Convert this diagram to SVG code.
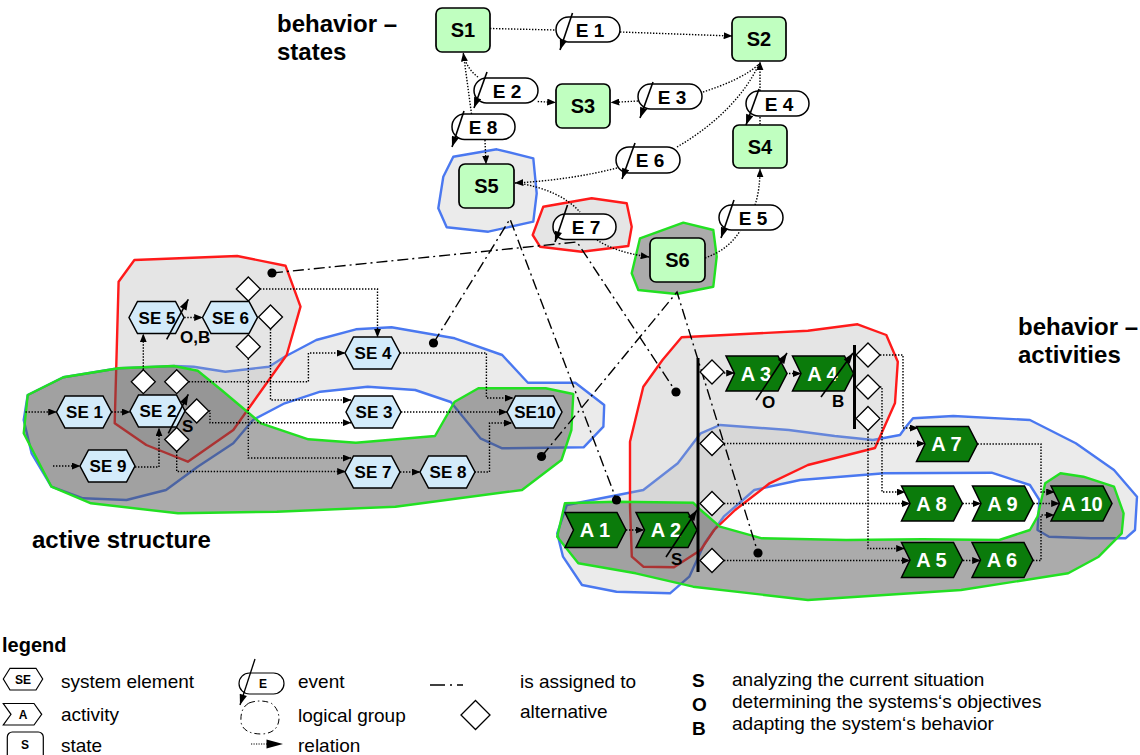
<svg xmlns="http://www.w3.org/2000/svg" width="1140" height="755" viewBox="0 0 1140 755">
<defs>
<style>
text{font-family:"Liberation Sans",Arial,sans-serif;fill:#000}
.st{fill:#c0ffc0;stroke:#000;stroke-width:1.7}
.se{fill:#d3ebfa;stroke:#000;stroke-width:1.5}
.ac{fill:#0b7b0b;stroke:#000;stroke-width:1.5}
.ev{fill:#fff;stroke:#000;stroke-width:1.5}
.dia{fill:#fff;stroke:#000;stroke-width:1.3}
.rel{fill:none;stroke:#000;stroke-width:1.4;stroke-dasharray:1.4 1.6}
.asg{fill:none;stroke:#000;stroke-width:1.4;stroke-dasharray:11 4 2 4}
.sl{fill:none;stroke:#000;stroke-width:1.6}
.gb{fill:#ebebeb;stroke:#4a78f0;stroke-width:2.4;stroke-linejoin:round}
.gr{fill:rgba(170,170,170,0.3);stroke:#ff1a1a;stroke-width:2.4;stroke-linejoin:round}
.gg{fill:rgba(80,80,80,0.48);stroke:#22e022;stroke-width:2.4;stroke-linejoin:round}
.ts{font-size:20px;font-weight:bold;text-anchor:middle}
.tse{font-size:17px;font-weight:bold;text-anchor:middle}
.ta{font-size:20px;font-weight:bold;text-anchor:middle;fill:#fff}
.te{font-size:19px;font-weight:bold;text-anchor:middle}
.tt{font-size:24px;font-weight:bold}
.tk{font-size:17px;font-weight:bold}
.tl{font-size:19px}
.tlb{font-size:19px;font-weight:bold}
</style>
<marker id="ah" viewBox="0 0 10 8" refX="9.5" refY="4" markerWidth="9" markerHeight="7" markerUnits="userSpaceOnUse" orient="auto"><path d="M0,0 L10,4 L0,8 Z" fill="#000"/></marker>
<marker id="ahe" viewBox="0 0 10 7" refX="10" refY="3.5" markerWidth="12" markerHeight="7.5" markerUnits="userSpaceOnUse" orient="auto"><path d="M0,0 L10,3.5 L0,7 Z" fill="#000"/></marker>
<path id="hex" d="M0,16 L8.5,0 H46.5 L55,16 L46.5,32 H8.5 Z"/>
<path id="act" d="M0,0 H52 L61,17.5 L52,35 H0 L8.5,17.5 Z"/>
<path id="dia" d="M0,-12 L12,0 L0,12 L-12,0 Z"/>
</defs>
<rect width="1140" height="755" fill="#fff"/>

<!-- logical groups -->
<g id="groups">
<polygon class="gb" points="27.7,395 63.3,377.3 118.6,368.3 174,366 193.7,366.7 225.4,371.7 268.9,366.7 284.7,356.7 316.3,340 355.9,329.3 391.5,327.3 454.7,338.3 502.2,355 527.9,382.7 575.3,382.7 604.2,405 603.4,426.7 583.6,447.3 502.2,448.3 480.4,438.3 450.8,402 415.2,390 367.7,386.7 320.3,391.7 284.7,403.3 253,420 233.3,443.3 197.7,466.7 166,490 126.5,500 83,498.3 51.4,486.7 31.6,453.3 23.7,420"/>
<polygon class="gb" points="566.8,505 643.3,490 677.8,463.3 700.7,433.3 719.9,425 788.8,430 834.7,436 873,440 900,435 905,428 913,418.3 953.3,416 1029.9,420 1075.8,443.3 1114,470 1137,496.7 1135,530 1125.5,538.3 1091,538.3 1049,536.7 1037.5,530 1039.4,500 1029.9,485 991.6,472.7 884.4,473.3 800.2,480 754.3,490 723.7,516.7 704.6,543.3 689.3,576.7 670,593.3 616.5,591.7 582,585 563,556.7 557.2,533.3"/>
<polygon class="gb" points="453.3,156.7 496.7,149.3 533.3,158.3 536.7,193.3 533.3,221.7 488.3,231.7 446.7,227.3 438.3,208.3 443.3,176.7"/>
<polygon class="gr" points="118.6,281.7 134.4,260 237.2,256 285.5,265.7 300.5,306.7 286.7,355 245.2,413.3 233.3,430 187.8,461.7 146.3,445 114.7,423.3"/>
<polygon class="gr" points="681.6,337.3 807.9,330.7 857.6,324.3 886.3,335 897.8,361.7 895,403 875,448 807.9,465 769.6,483.3 735.2,510 714.1,530 700.7,550 674,567.3 643.3,566.7 631.8,556.7 630,506.7 630,441.7 643.3,386.7 662.5,360"/>
<polygon class="gr" points="543.3,206.7 591.7,198.3 626.7,203.3 631.7,226.7 628.3,246 581.7,251.7 540,246.7 532.7,235"/>
<polygon class="gg" points="27.7,395 63.3,377.3 118.6,368.3 174,366 197.7,370.7 221.4,390 261,423.3 308.4,439.3 355.9,442.7 435,436 454.7,401.7 478.4,388.3 545.7,388.3 573.3,394 571.4,430 561.5,460 522,490 395.4,506.7 276.8,511.7 178,513.3 91,503.3 51.4,486.7 23.7,433.3"/>
<polygon class="gg" points="564.9,503.3 616.5,501.7 693.1,502.7 700.7,510 719.9,526.7 762,538.3 846.2,540 922.7,539.3 999.2,540 1029.9,530 1037.5,516.7 1045.2,483.3 1060.5,473.3 1083.4,476.7 1114,486.7 1123.6,513.3 1121.7,533.3 1098.7,556.7 1068.2,573.3 961,590 807.9,600 693.1,586.7 635.7,573.3 578.3,563.3 557.2,536.7"/>
<polygon class="gg" points="640,238.3 683.3,222.7 713.3,230 716.7,256.7 713.3,286.7 676.7,294 638.3,290 631.7,273.3"/>
</g>

<!-- connectors -->
<g id="connectors">
<!-- states -->
<path class="rel" d="M490,28.5 L556,30"/>
<path class="rel" d="M620,32 L732,36" marker-end="url(#ah)"/>
<path class="rel" d="M703,92 C725,85 748,75 759,64"/>
<path class="rel" d="M677,147 C715,125 745,95 759,64"/>
<path class="rel" d="M760,91 V62" marker-end="url(#ah)"/>
<path class="rel" d="M760,117 V125"/>
<path class="rel" d="M638,101 L611,102.5" marker-end="url(#ah)"/>
<path class="rel" d="M617,168 Q570,180 515,183" marker-end="url(#ah)"/>
<path class="rel" d="M755,205 Q760,190 760,169" marker-end="url(#ah)"/>
<path class="rel" d="M705,258 Q728,250 740,231"/>
<path class="rel" d="M597,240 Q615,252 649,257" marker-end="url(#ah)"/>
<path class="rel" d="M518,183 Q560,190 580,212"/>
<path class="rel" d="M478,77 Q468,70 463,55"/>
<path class="rel" d="M471.5,114 L463.3,53" marker-end="url(#ah)"/>
<path class="rel" d="M537.7,101.5 L555.5,102.5" marker-end="url(#ah)"/>
<path class="rel" d="M485,140 L486,164" marker-end="url(#ah)"/>
<!-- active structure -->
<path class="rel" d="M25.5,412 H56.5" marker-end="url(#ah)"/>
<path class="rel" d="M111.5,412 H130" marker-end="url(#ah)"/>
<path class="rel" d="M53,466 H80" marker-end="url(#ah)"/>
<path class="rel" d="M135,467 H159 V428" marker-end="url(#ah)"/>
<path class="rel" d="M143.3,369.7 V334" marker-end="url(#ah)"/>
<path class="rel" d="M184.3,317.5 H202.5" marker-end="url(#ah)"/>
<path class="rel" d="M260,289 H377.5 V337" marker-end="url(#ah)"/>
<path class="rel" d="M270.5,329 V400 H351" marker-end="url(#ah)"/>
<path class="rel" d="M248.3,358.7 V458 H351" marker-end="url(#ah)"/>
<path class="rel" d="M188.7,381.7 H308.4 V353 H345" marker-end="url(#ah)"/>
<path class="rel" d="M208.7,411 H210 V422.7 H351" marker-end="url(#ah)"/>
<path class="rel" d="M176.7,451.5 V471.5 H345.5" marker-end="url(#ah)"/>
<path class="rel" d="M400,353 H486.4 V398 H513" marker-end="url(#ah)"/>
<path class="rel" d="M401,412 H507" marker-end="url(#ah)"/>
<path class="rel" d="M400,472 H420" marker-end="url(#ah)"/>
<path class="rel" d="M474.5,472 H489.5 V423 H512" marker-end="url(#ah)"/>
<!-- activities -->
<path class="rel" d="M626,530 H644" marker-end="url(#ah)"/>
<path class="rel" d="M724,373 H734.5" marker-end="url(#ah)"/>
<path class="rel" d="M786,373.5 H801" marker-end="url(#ah)"/>
<path class="rel" d="M880,355 H903 V428 H918" marker-end="url(#ah)"/>
<path class="rel" d="M880,387 H882 V492 H905" marker-end="url(#ah)"/>
<path class="rel" d="M868,430.5 V548.5 H904.5" marker-end="url(#ah)"/>
<path class="rel" d="M724,443.5 H925" marker-end="url(#ah)"/>
<path class="rel" d="M724,503.5 H910" marker-end="url(#ah)"/>
<path class="rel" d="M724,560.5 H910" marker-end="url(#ah)"/>
<path class="rel" d="M977.5,444 H1041 V492 H1054.5" marker-end="url(#ah)"/>
<path class="rel" d="M962.5,503.5 H981" marker-end="url(#ah)"/>
<path class="rel" d="M1033.5,503.5 H1059.5" marker-end="url(#ah)"/>
<path class="rel" d="M1033,560.5 H1041 V515 H1054" marker-end="url(#ah)"/>
<path class="rel" d="M963,560.5 H980.5" marker-end="url(#ah)"/>
<!-- is assigned to -->
<path class="asg" d="M272,273 L577,242 L676,392"/>
<path class="asg" d="M433.5,343 L510,219 L616.5,500"/>
<path class="asg" d="M541.5,456.5 L677,292 L758,553"/>
<g fill="#000">
<circle cx="272" cy="273" r="4.6"/>
<circle cx="433.5" cy="343" r="4.6"/>
<circle cx="616.5" cy="500" r="4.6"/>
<circle cx="676" cy="392" r="4.6"/>
<circle cx="541.5" cy="456.5" r="4.6"/>
<circle cx="758" cy="553" r="4.6"/>
</g>
</g>

<!-- states -->
<g id="S1"><rect class="st" x="436" y="8" width="54" height="44" rx="6"/><text class="ts" x="463" y="37">S1</text></g>
<g id="S2"><rect class="st" x="732" y="17" width="54" height="44" rx="6"/><text class="ts" x="759" y="46">S2</text></g>
<g id="S3"><rect class="st" x="556" y="84" width="54" height="44" rx="6"/><text class="ts" x="583" y="113">S3</text></g>
<g id="S4"><rect class="st" x="733" y="125" width="54" height="43" rx="6"/><text class="ts" x="760" y="154">S4</text></g>
<g id="S5"><rect class="st" x="459" y="164" width="55" height="44" rx="6"/><text class="ts" x="486.5" y="193">S5</text></g>
<g id="S6"><rect class="st" x="650" y="238" width="55" height="44" rx="6"/><text class="ts" x="677.5" y="267">S6</text></g>

<!-- events -->
<g id="E1"><rect class="ev" x="556" y="17" width="64" height="25" rx="12.5"/><text class="te" x="590" y="36.5">E 1</text><path class="sl" d="M572.5,13 L560,50" marker-end="url(#ahe)"/></g>
<g id="E2"><rect class="ev" x="474" y="78" width="64" height="25" rx="12.5"/><text class="te" x="507" y="97.5">E 2</text><path class="sl" d="M487,72 L474,108" marker-end="url(#ahe)"/></g>
<g id="E3"><rect class="ev" x="638" y="84" width="64" height="25" rx="12.5"/><text class="te" x="672" y="103.5">E 3</text><path class="sl" d="M653,82 L640,118" marker-end="url(#ahe)"/></g>
<g id="E4"><rect class="ev" x="746" y="91" width="63" height="25" rx="12.5"/><text class="te" x="779" y="110.5">E 4</text><path class="sl" d="M759,89 L746,125" marker-end="url(#ahe)"/></g>
<g id="E5"><rect class="ev" x="719" y="205" width="64" height="25" rx="12.5"/><text class="te" x="753" y="224.5">E 5</text><path class="sl" d="M734,200 L721,238" marker-end="url(#ahe)"/></g>
<g id="E6"><rect class="ev" x="616" y="147" width="64" height="26" rx="13"/><text class="te" x="650" y="167">E 6</text><path class="sl" d="M635,143 L622,179" marker-end="url(#ahe)"/></g>
<g id="E7"><rect class="ev" x="553" y="214" width="63" height="25.5" rx="12.5"/><text class="te" x="586" y="233.5">E 7</text><path class="sl" d="M567.5,205 L555,242" marker-end="url(#ahe)"/></g>
<g id="E8"><rect class="ev" x="452" y="114" width="63" height="25.5" rx="12.5"/><text class="te" x="483" y="133.5">E 8</text><path class="sl" d="M464,111 L452,147" marker-end="url(#ahe)"/></g>

<!-- system elements -->
<g id="SE1"><use href="#hex" class="se" x="56.5" y="396"/><text class="tse" x="84.5" y="418">SE 1</text></g>
<g id="SE2"><use href="#hex" class="se" x="130" y="395"/><text class="tse" x="158" y="417">SE 2</text></g>
<g id="SE3"><use href="#hex" class="se" x="346" y="396"/><text class="tse" x="374" y="418">SE 3</text></g>
<g id="SE4"><use href="#hex" class="se" x="345" y="337"/><text class="tse" x="373" y="359">SE 4</text></g>
<g id="SE5"><use href="#hex" class="se" x="129" y="301.5"/><text class="tse" x="157" y="323.5">SE 5</text></g>
<g id="SE6"><use href="#hex" class="se" x="202.5" y="301.5"/><text class="tse" x="230.5" y="323.5">SE 6</text></g>
<g id="SE7"><use href="#hex" class="se" x="345" y="456"/><text class="tse" x="373" y="478">SE 7</text></g>
<g id="SE8"><use href="#hex" class="se" x="420" y="456"/><text class="tse" x="448" y="478">SE 8</text></g>
<g id="SE9"><use href="#hex" class="se" x="80" y="450"/><text class="tse" x="108" y="472">SE 9</text></g>
<g id="SE10"><use href="#hex" class="se" x="507" y="396"/><text class="tse" x="535" y="418">SE10</text></g>

<!-- activities -->
<g id="A1"><use href="#act" class="ac" x="565" y="512.5"/><text class="ta" x="595" y="537">A 1</text></g>
<g id="A2"><use href="#act" class="ac" x="636" y="512.5"/><text class="ta" x="666" y="537">A 2</text></g>
<g id="A3"><use href="#act" class="ac" x="726" y="356"/><text class="ta" x="756" y="380.5">A 3</text></g>
<g id="A4"><use href="#act" class="ac" x="792.5" y="356"/><text class="ta" x="822.5" y="380.5">A 4</text></g>
<g id="A5"><use href="#act" class="ac" x="901.5" y="542.5"/><text class="ta" x="931.5" y="567">A 5</text></g>
<g id="A6"><use href="#act" class="ac" x="972" y="542.5"/><text class="ta" x="1002" y="567">A 6</text></g>
<g id="A7"><use href="#act" class="ac" x="916.5" y="426.5"/><text class="ta" x="946.5" y="451">A 7</text></g>
<g id="A8"><use href="#act" class="ac" x="901.5" y="486"/><text class="ta" x="931.5" y="510.5">A 8</text></g>
<g id="A9"><use href="#act" class="ac" x="972.5" y="486"/><text class="ta" x="1002.5" y="510.5">A 9</text></g>
<g id="A10"><use href="#act" class="ac" x="1051" y="486"/><text class="ta" x="1082" y="510.5">A 10</text></g>

<!-- bars -->
<g id="bar1"><path d="M698,358 V572" stroke="#000" stroke-width="3"/></g>
<g id="bar2"><path d="M854.5,345 V429" stroke="#000" stroke-width="3"/></g>

<!-- alternatives -->
<g id="alternatives">
<use href="#dia" class="dia" x="248.3" y="289"/>
<use href="#dia" class="dia" x="270.5" y="317"/>
<use href="#dia" class="dia" x="248.3" y="346.7"/>
<use href="#dia" class="dia" x="143.3" y="381.7"/>
<use href="#dia" class="dia" x="176.7" y="381.7"/>
<use href="#dia" class="dia" x="196.7" y="411"/>
<use href="#dia" class="dia" x="176.7" y="439.5"/>
<use href="#dia" class="dia" x="712" y="372"/>
<use href="#dia" class="dia" x="712" y="443.5"/>
<use href="#dia" class="dia" x="712" y="503.5"/>
<use href="#dia" class="dia" x="712" y="560.5"/>
<use href="#dia" class="dia" x="868" y="355"/>
<use href="#dia" class="dia" x="868" y="387"/>
<use href="#dia" class="dia" x="868" y="418.5"/>
</g>

<!-- S/O/B marks -->
<g id="marks">
<path class="sl" d="M166.7,339.3 L188.3,299.3" marker-end="url(#ahe)"/>
<text class="tk" x="180" y="343">O,B</text>
<path class="sl" d="M168.3,433.3 L188.3,394.3" marker-end="url(#ahe)"/>
<text class="tk" x="182" y="432">S</text>
<path class="sl" d="M756,400 L787,353" marker-end="url(#ahe)"/>
<text class="tk" x="762" y="408">O</text>
<path class="sl" d="M821,397 L853,353" marker-end="url(#ahe)"/>
<text class="tk" x="832" y="407">B</text>
<path class="sl" d="M666,557 L697,510" marker-end="url(#ahe)"/>
<text class="tk" x="671" y="565">S</text>
</g>

<!-- titles -->
<g id="titles">
<text class="tt" x="277" y="32">behavior –</text>
<text class="tt" x="277" y="60">states</text>
<text class="tt" x="1018" y="335">behavior –</text>
<text class="tt" x="1018" y="363">activities</text>
<text class="tt" x="32" y="548">active structure</text>
</g>

<!-- legend -->
<g id="legend">
<text class="tlb" x="2" y="652" style="font-size:20px">legend</text>
<path d="M3.3,679 L10,668.3 H36 L42.7,679 L36,690 H10 Z" fill="#fff" stroke="#000" stroke-width="1.2"/>
<text x="23" y="683.5" style="font-size:12px;font-weight:bold;text-anchor:middle">SE</text>
<text class="tl" x="61" y="688">system element</text>
<path d="M3.3,703.5 H34 L41.7,714.3 L34,725 H3.3 L11,714.3 Z" fill="#fff" stroke="#000" stroke-width="1.2"/>
<text x="23" y="719" style="font-size:12px;font-weight:bold;text-anchor:middle">A</text>
<text class="tl" x="61" y="721">activity</text>
<rect x="7.3" y="732" width="36" height="30" rx="5" fill="#fff" stroke="#000" stroke-width="1.2"/>
<text x="25" y="749" style="font-size:12px;font-weight:bold;text-anchor:middle">S</text>
<text class="tl" x="61" y="752">state</text>
<rect x="239" y="673" width="45" height="21" rx="10.5" fill="#fff" stroke="#000" stroke-width="1.2"/>
<text x="263" y="688" style="font-size:12px;font-weight:bold;text-anchor:middle">E</text>
<path d="M255,659 L240,705" stroke="#000" stroke-width="1.3" fill="none" marker-end="url(#ahe)"/>
<text class="tl" x="298" y="688">event</text>
<path d="M249,703 Q260,699 271,703 Q279,709 279,719 Q278,733 262,734 Q243,734 241,722 Q240,708 249,703 Z" fill="none" stroke="#000" stroke-width="1" stroke-dasharray="6 3 1.5 3"/>
<text class="tl" x="298" y="722">logical group</text>
<path d="M251,744 H267" stroke="#000" stroke-width="1.1" stroke-dasharray="1.2 1.3"/>
<path d="M266.5,739.5 L283,744 L266.5,748.5 Z" fill="#000"/>
<text class="tl" x="298" y="752">relation</text>
<path d="M430,685 H489" stroke="#000" stroke-width="1.4" stroke-dasharray="15 5 2 5 6 100"/>
<text class="tl" x="520" y="688">is assigned to</text>
<path d="M475.5,700.5 L490,715 L475.5,729.5 L461,715 Z" fill="#fff" stroke="#000" stroke-width="1.3"/>
<text class="tl" x="520" y="718">alternative</text>
<text class="tlb" x="692" y="687">S</text>
<text class="tl" x="732" y="686">analyzing the current situation</text>
<text class="tlb" x="692" y="711">O</text>
<text class="tl" x="732" y="708">determining the systems‘s objectives</text>
<text class="tlb" x="692" y="735">B</text>
<text class="tl" x="732" y="730">adapting the system‘s behavior</text>
</g>
</svg>
